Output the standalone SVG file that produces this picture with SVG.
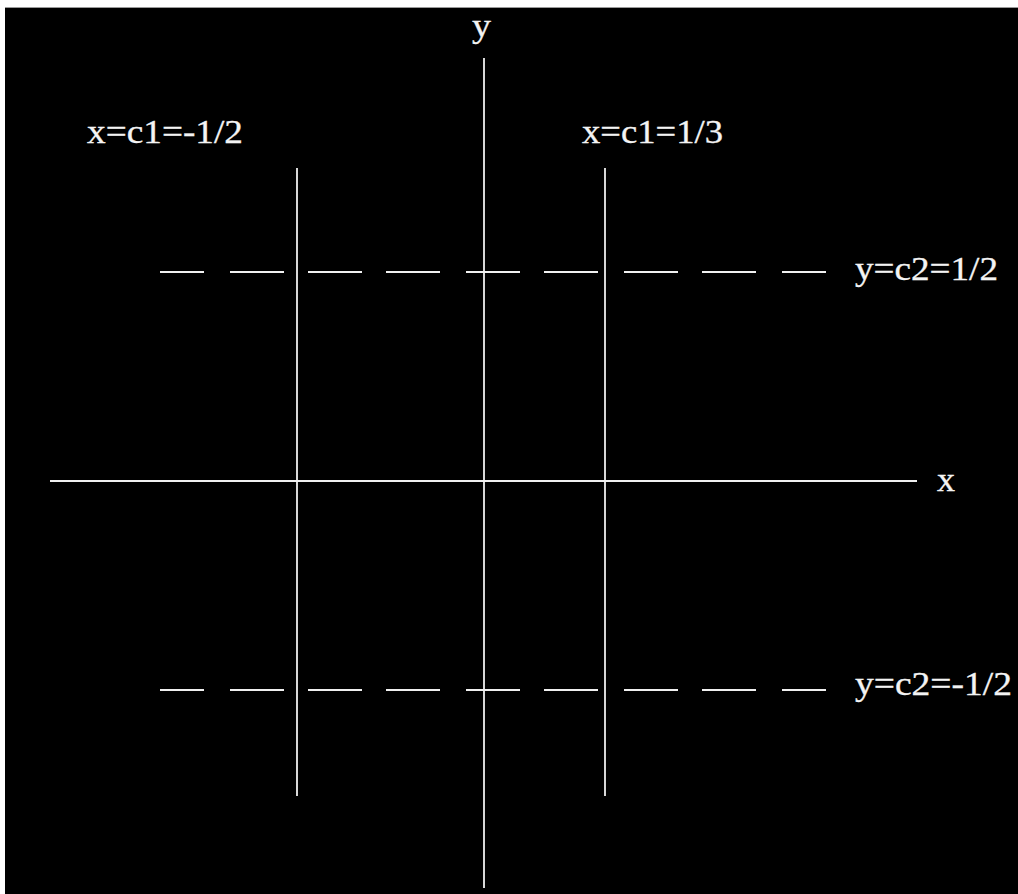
<svg xmlns="http://www.w3.org/2000/svg" width="1018" height="894" viewBox="0 0 1018 894">
<style>
.ln{stroke:#f0f0f0;stroke-width:1.8;fill:none}
.lb{fill:#f4f4f4;font-family:"Liberation Serif","Times New Roman",serif;font-size:33px;stroke:#f4f4f4;stroke-width:0.3}
</style>
<rect x="0" y="0" width="1018" height="894" fill="#ffffff"/>
<rect x="5" y="8" width="1013" height="886" fill="#000000"/>
<line x1="5" y1="7.5" x2="1018" y2="7.5" stroke="#9a9a9a" stroke-width="1"/>
<g id="connectors">
<line id="x-axis" class="ln" x1="50" y1="481" x2="917" y2="481"/>
<line id="y-axis" class="ln" x1="484" y1="58" x2="484" y2="888"/>
<line id="x-neg" class="ln" x1="297" y1="168" x2="297" y2="796"/>
<line id="x-pos" class="ln" x1="605" y1="168" x2="605" y2="796"/>
<path id="y-pos" class="ln" d="M160 272H204M230 272H284M308 272H362M386 272H440M466 272H520M544 272H598M624 272H678M702 272H756M782 272H826"/>
<path id="y-neg" class="ln" d="M160 690H204M230 690H284M308 690H362M386 690H440M466 690H520M544 690H598M624 690H678M702 690H756M782 690H826"/>
</g>
<g id="label-y"><text class="lb" x="472" y="37" textLength="19" lengthAdjust="spacingAndGlyphs">y</text></g>
<g id="label-x"><text class="lb" x="937" y="491" textLength="18" lengthAdjust="spacingAndGlyphs">x</text></g>
<g id="label-c1-neg"><text class="lb" x="87" y="143" textLength="156" lengthAdjust="spacingAndGlyphs">x=c1=-1/2</text></g>
<g id="label-c1-pos"><text class="lb" x="582" y="143" textLength="141" lengthAdjust="spacingAndGlyphs">x=c1=1/3</text></g>
<g id="label-c2-pos"><text class="lb" x="855" y="280" textLength="143" lengthAdjust="spacingAndGlyphs">y=c2=1/2</text></g>
<g id="label-c2-neg"><text class="lb" x="855" y="695" textLength="157" lengthAdjust="spacingAndGlyphs">y=c2=-1/2</text></g>
</svg>
